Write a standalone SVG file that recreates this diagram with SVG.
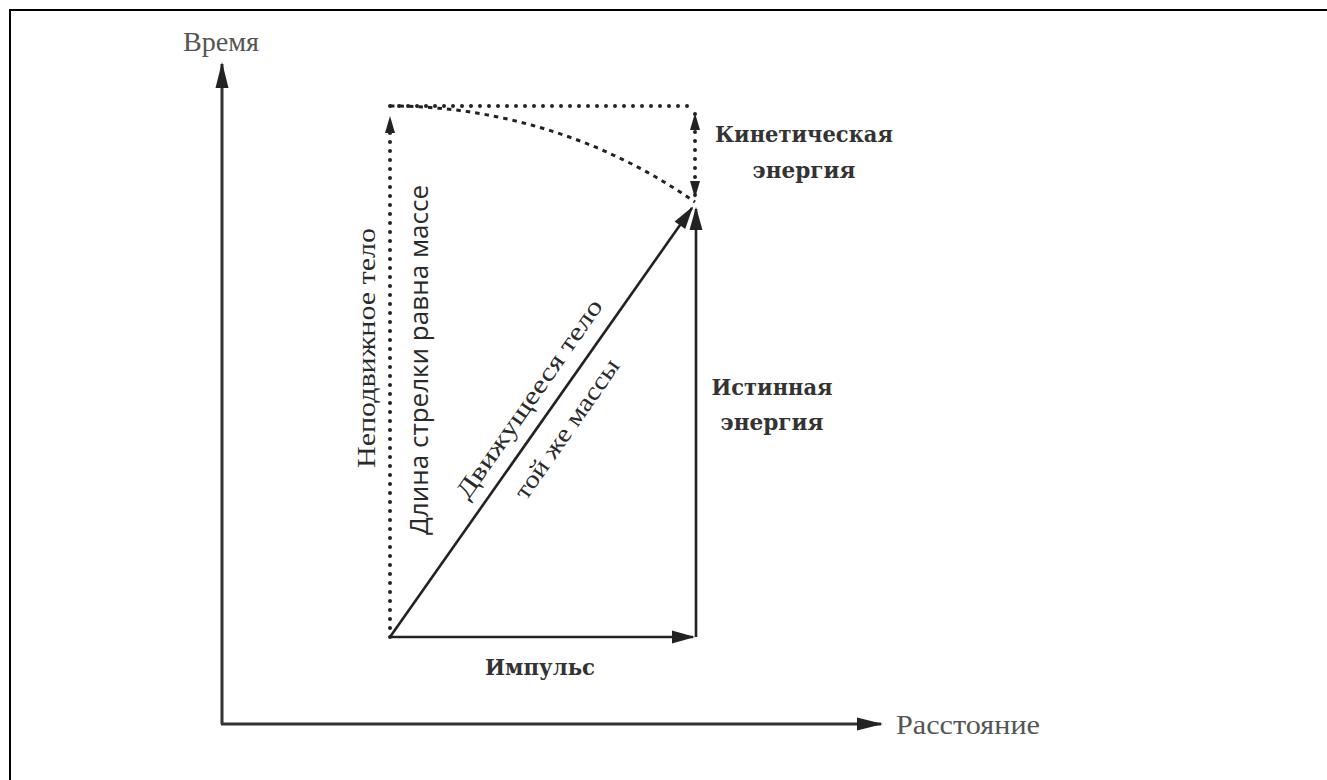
<svg xmlns="http://www.w3.org/2000/svg" width="1327" height="780" viewBox="0 0 1327 780">
  <style>
    .axis { stroke: #333; stroke-width: 3; fill: none; }
    .solid { stroke: #222; stroke-width: 2.6; fill: none; }
    .dots { stroke: #222; stroke-width: 4; fill: none; stroke-dasharray: 0 9; stroke-linecap: round; }
    .dash { stroke: #222; stroke-width: 3; fill: none; stroke-dasharray: 4.5 5; }
    .axlabel { font-family: "Liberation Serif", "Times New Roman", serif; font-size: 27px; fill: #555; }
    .bold { font-family: "DejaVu Serif", serif; font-weight: bold; font-size: 22px; fill: #333; text-anchor: middle; }
    .serif { font-family: "Liberation Serif", serif; font-size: 25px; fill: #2a2a2a; text-anchor: middle; }
    .sans { font-family: "Open Sans", "Liberation Sans", sans-serif; font-size: 26px; fill: #2a2a2a; text-anchor: middle; }
  </style>
  <defs>
    <marker id="axisHead" markerUnits="userSpaceOnUse" viewBox="-28 -8 30 16" markerWidth="30" markerHeight="16" refX="-2" refY="0" orient="auto">
      <path d="M0,0 L-26,-6.5 L-26,6.5 Z" fill="#222"/>
    </marker>
    <marker id="head" markerUnits="userSpaceOnUse" viewBox="-26 -8 28 16" markerWidth="28" markerHeight="16" refX="-2" refY="0" orient="auto">
      <path d="M0,0 L-23,-6.5 L-23,6.5 Z" fill="#222"/>
    </marker>
    <marker id="smallHead" markerUnits="userSpaceOnUse" viewBox="-20 -7 22 14" markerWidth="22" markerHeight="14" refX="-1" refY="0" orient="auto-start-reverse">
      <path d="M0,0 L-17,-5 L-17,5 Z" fill="#222"/>
    </marker>
  </defs>

  <!-- frame -->
  <path d="M10,790 V10 H1340" fill="none" stroke="#000" stroke-width="2"/>

  <!-- axes -->
  <g id="axes">
    <line class="axis" x1="222" y1="724" x2="222" y2="64" marker-end="url(#axisHead)"/>
    <line class="axis" x1="221" y1="724" x2="881" y2="724" marker-end="url(#axisHead)"/>
    <text class="axlabel" x="183" y="51" textLength="76" lengthAdjust="spacingAndGlyphs">Время</text>
    <text class="axlabel" x="896" y="734" textLength="144" lengthAdjust="spacingAndGlyphs">Расстояние</text>
  </g>

  <!-- connectors -->
  <g id="connectors">
    <!-- rest body: dotted vertical arrow -->
    <line class="dots" x1="390" y1="637" x2="390" y2="117" marker-end="url(#smallHead)"/>
    <!-- top dotted line -->
    <line class="dots" x1="390" y1="106" x2="695" y2="106"/>
    <!-- kinetic energy: dotted double arrow -->
    <line class="dots" x1="695" y1="114" x2="695" y2="197" marker-start="url(#smallHead)" marker-end="url(#smallHead)"/>
    <!-- arc of equal length -->
    <path class="dash" d="M390,106 A531,531 0 0 1 695,202"/>
    <!-- momentum -->
    <line class="solid" x1="390" y1="637" x2="693" y2="637" marker-end="url(#head)"/>
    <!-- true energy -->
    <line class="solid" x1="696" y1="637" x2="696" y2="209" marker-end="url(#head)"/>
    <!-- moving body -->
    <line class="solid" x1="390" y1="637" x2="692" y2="208" marker-end="url(#head)"/>
  </g>

  <g id="label-rest">
    <text class="serif" transform="translate(375,348) rotate(-90)" x="0" y="0" textLength="240" lengthAdjust="spacingAndGlyphs">Неподвижное тело</text>
  </g>
  <g id="label-length">
    <text class="sans" transform="translate(428,360) rotate(-90)" x="0" y="0" textLength="350" lengthAdjust="spacingAndGlyphs">Длина стрелки равна массе</text>
  </g>
  <g id="label-moving" transform="translate(390,637) rotate(-55.1)">
    <text class="serif" x="275" y="-14" textLength="237" lengthAdjust="spacingAndGlyphs">Движущееся тело</text>
    <text class="serif" x="272" y="34" textLength="165" lengthAdjust="spacingAndGlyphs">той же массы</text>
  </g>
  <g id="label-kinetic">
    <text class="bold" x="804" y="142" textLength="178" lengthAdjust="spacingAndGlyphs">Кинетическая</text>
    <text class="bold" x="804" y="178" textLength="103" lengthAdjust="spacingAndGlyphs">энергия</text>
  </g>
  <g id="label-true">
    <text class="bold" x="772" y="395" textLength="121" lengthAdjust="spacingAndGlyphs">Истинная</text>
    <text class="bold" x="772" y="430" textLength="103" lengthAdjust="spacingAndGlyphs">энергия</text>
  </g>
  <g id="label-momentum">
    <text class="bold" x="540" y="675" textLength="110" lengthAdjust="spacingAndGlyphs">Импульс</text>
  </g>
</svg>
